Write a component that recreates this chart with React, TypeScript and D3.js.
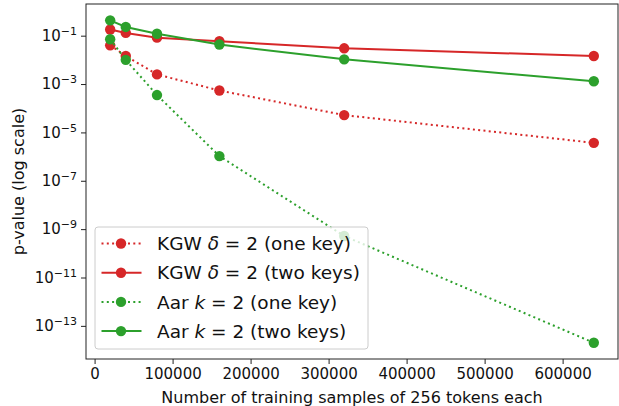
import { useRef, useEffect } from 'react';
import * as d3 from 'd3';

// training samples (x)
const samples = [20000, 40000, 80000, 160000, 320000, 640000];

// p-values per series
const kgwOneKey = [0.04, 0.0145, 0.0025, 5.4e-4, 5.2e-5, 3.7e-6];
const kgwTwoKeys = [0.18, 0.13, 0.083, 0.059, 0.03, 0.0145];
const aarOneKey = [0.071, 0.01, 3.5e-4, 1.05e-6, 5.2e-10, 2e-14];
const aarTwoKeys = [0.43, 0.23, 0.12, 0.043, 0.0105, 0.0013];

const xTicks = [0, 100000, 200000, 300000, 400000, 500000, 600000];
const yTickExps = [-1, -3, -5, -7, -9, -11, -13];

const RED = '#d62728';
const GREEN = '#2ca02c';

const series = [
  { name: 'KGW', sym: 'δ', note: '(one key)', values: kgwOneKey, color: RED, dotted: true },
  { name: 'KGW', sym: 'δ', note: '(two keys)', values: kgwTwoKeys, color: RED, dotted: false },
  { name: 'Aar', sym: 'k', note: '(one key)', values: aarOneKey, color: GREEN, dotted: true },
  { name: 'Aar', sym: 'k', note: '(two keys)', values: aarTwoKeys, color: GREEN, dotted: false },
];

export default function App() {
  const svgRef = useRef<SVGSVGElement | null>(null);

  useEffect(() => {
    if (!svgRef.current) return;
    const svg = d3.select(svgRef.current);
    svg.selectAll('*').remove();

    const width = 619;
    const height = 406;
    const margin = { top: 4, right: 1, bottom: 47, left: 86 };
    const font = 'DejaVu Sans, sans-serif';

    const x = d3.scaleLinear().domain([-11000, 671000]).range([margin.left, width - margin.right]);
    const y = d3
      .scaleLog()
      .domain([Math.pow(10, -14.37), Math.pow(10, 0.31)])
      .range([height - margin.bottom, margin.top]);

    svg.append('rect').attr('width', width).attr('height', height).attr('fill', '#fff');

    const plot = svg.append('g');

    series.forEach((s) => {
      const pts = samples.map((d, i) => [x(d), y(s.values[i])] as [number, number]);
      plot
        .append('path')
        .attr('d', d3.line()(pts))
        .attr('fill', 'none')
        .attr('stroke', s.color)
        .attr('stroke-width', 2)
        .attr('stroke-dasharray', s.dotted ? '2,3.3' : null);
      plot
        .selectAll(null)
        .data(pts)
        .enter()
        .append('circle')
        .attr('cx', (d) => d[0])
        .attr('cy', (d) => d[1])
        .attr('r', 5.2)
        .attr('fill', s.color);
    });

    // spines
    svg
      .append('rect')
      .attr('x', margin.left)
      .attr('y', margin.top)
      .attr('width', width - margin.right - margin.left)
      .attr('height', height - margin.bottom - margin.top)
      .attr('fill', 'none')
      .attr('stroke', '#222')
      .attr('stroke-width', 1);

    // x axis
    const xAxis = svg
      .append('g')
      .attr('transform', `translate(0,${height - margin.bottom})`)
      .call(
        d3
          .axisBottom(x)
          .tickValues(xTicks)
          .tickFormat((d) => String(d))
          .tickSize(5)
          .tickPadding(4)
      );
    xAxis.select('.domain').remove();
    xAxis.selectAll('text').attr('font-family', font).attr('font-size', 15).attr('fill', '#111');
    xAxis.selectAll('line').attr('stroke', '#222');

    // y axis
    const yAxis = svg
      .append('g')
      .attr('transform', `translate(${margin.left},0)`)
      .call(
        d3
          .axisLeft(y)
          .tickValues(yTickExps.map((e) => Math.pow(10, e)))
          .tickFormat(() => '')
          .tickSize(5)
      );
    yAxis.select('.domain').remove();
    yAxis.selectAll('line').attr('stroke', '#222');
    yAxis
      .selectAll('g.tick')
      .data(yTickExps)
      .each(function (e) {
        const t = d3.select(this).select('text');
        t.attr('font-family', font)
          .attr('font-size', 15)
          .attr('fill', '#111')
          .attr('x', -9)
          .attr('dy', '0.32em');
        t.append('tspan').text('10');
        t.append('tspan')
          .attr('dy', '-0.55em')
          .attr('font-size', 11)
          .text(`\u2212${Math.abs(e)}`);
      });

    // axis labels
    svg
      .append('text')
      .attr('x', (margin.left + width - margin.right) / 2)
      .attr('y', 403)
      .attr('text-anchor', 'middle')
      .attr('font-family', font)
      .attr('font-size', 16)
      .attr('fill', '#111')
      .text('Number of training samples of 256 tokens each');
    svg
      .append('text')
      .attr('transform', `translate(24,${(margin.top + height - margin.bottom) / 2}) rotate(-90)`)
      .attr('text-anchor', 'middle')
      .attr('font-family', font)
      .attr('font-size', 16)
      .attr('fill', '#111')
      .text('p-value (log scale)');

    // legend
    const lg = svg.append('g').attr('transform', 'translate(95,227)');
    lg.append('rect')
      .attr('width', 273)
      .attr('height', 122)
      .attr('rx', 3)
      .attr('fill', 'rgba(255,255,255,0.8)')
      .attr('stroke', '#ccc')
      .attr('stroke-width', 1);
    series.forEach((s, i) => {
      const cy = 16.5 + i * 29.2;
      lg.append('line')
        .attr('x1', 6.5)
        .attr('x2', 46.5)
        .attr('y1', cy)
        .attr('y2', cy)
        .attr('stroke', s.color)
        .attr('stroke-width', 2)
        .attr('stroke-dasharray', s.dotted ? '2,3.3' : null);
      lg.append('circle').attr('cx', 26).attr('cy', cy).attr('r', 5.2).attr('fill', s.color);
      const t = lg
        .append('text')
        .attr('x', 62)
        .attr('y', cy)
        .attr('dy', '0.36em')
        .attr('font-family', font)
        .attr('font-size', 18.5)
        .attr('fill', '#111');
      t.append('tspan').text(`${s.name} `);
      t.append('tspan').attr('font-style', 'italic').text(s.sym);
      t.append('tspan').text(` = 2 ${s.note}`);
    });
  }, []);

  return (
    <svg
      ref={svgRef}
      width={619}
      height={406}
      viewBox="0 0 619 406"
      style={{ position: 'absolute', left: 0, top: 0 }}
    />
  );
}
